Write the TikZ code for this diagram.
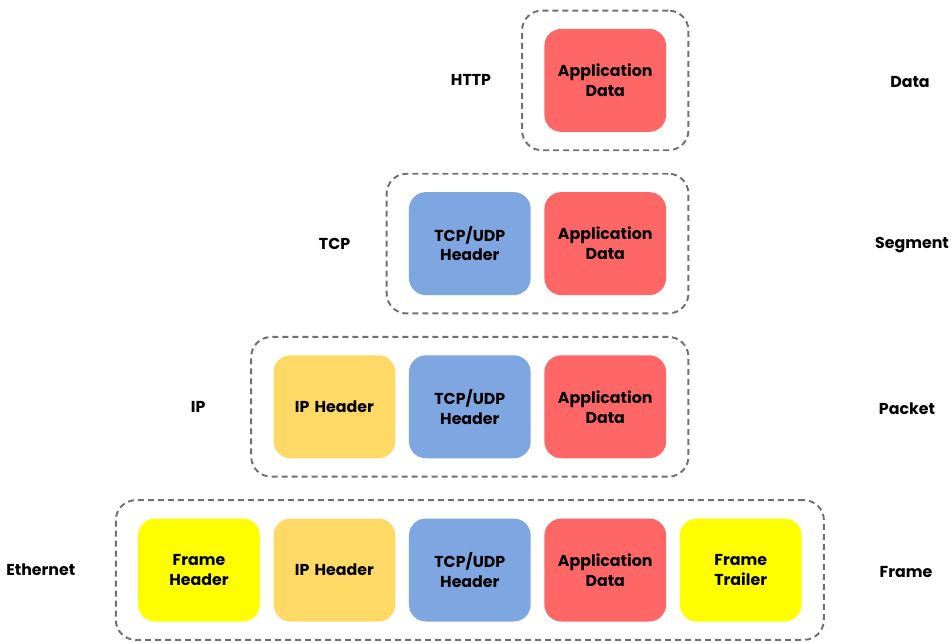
\documentclass[tikz,border=0pt]{standalone}
\usepackage{fontspec}
\setmainfont{Poppins}
\usepackage{xcolor}
\usepackage{tikz}
\usetikzlibrary{positioning, fit}

\definecolor{datared}{HTML}{FF6666}
\definecolor{tcpblue}{HTML}{7EA6E0}
\definecolor{iporange}{HTML}{FFD966}
\definecolor{frameyellow}{HTML}{FFFF00}
\definecolor{groupgray}{HTML}{707070}

\begin{document}
\begin{tikzpicture}[
        node distance=0.26cm,
        % Node styles
        block/.style={rectangle, rounded corners=0.34cm, minimum width=2.4cm,
                      minimum height=2.06cm, text width=2.2cm, align=center,
                      font=\fontsize{9}{11.3}\selectfont\bfseries},
        appdata/.style={block, fill=datared},
        tcphead/.style={block, fill=tcpblue},
        iphead/.style={block, fill=iporange},
        framepart/.style={block, fill=frameyellow},
        group/.style={draw=groupgray, line width=1.1pt, dash pattern=on 0.12cm off 0.08cm,
                      rounded corners=0.4cm, inner xsep=0.44cm, inner ysep=0.36cm},
        layer/.style={font=\fontsize{9}{11}\selectfont\bfseries}
    ]
        \useasboundingbox (0,0) rectangle (19.02,-12.84);

        % Ethernet row
        \node[framepart] (framehead) at (3.98,-11.4) {Frame\\Header};
        \node[iphead, right=of framehead] (ethip) {IP Header};
        \node[tcphead, right=of ethip] (ethtcp) {TCP/UDP\\Header};
        \node[appdata, right=of ethtcp] (ethdata) {Application\\Data};
        \node[framepart, right=of ethdata] (frametrail) {Frame\\Trailer};

        % IP row
        \node[iphead, above=1.19cm of ethip] (ipip) {IP Header};
        \node[tcphead, right=of ipip] (iptcp) {TCP/UDP\\Header};
        \node[appdata, right=of iptcp] (ipdata) {Application\\Data};

        % TCP row
        \node[tcphead, above=1.19cm of iptcp] (tcptcp) {TCP/UDP\\Header};
        \node[appdata, right=of tcptcp] (tcpdata) {Application\\Data};

        % HTTP row
        \node[appdata, above=1.19cm of tcpdata] (httpdata) {Application\\Data};

        % Dashed groups
        \node[group, fit=(framehead)(frametrail)] (ethgroup) {};
        \node[group, fit=(ipip)(ipdata)] (ipgroup) {};
        \node[group, fit=(tcptcp)(tcpdata)] (tcpgroup) {};
        \node[group, fit=(httpdata)] (httpgroup) {};

        % Layer names on the left
        \node[layer] (ethname) at ([xshift=-1.94cm]framehead.west) {Ethernet};
        \node[layer] (ipname) at ([xshift=-1.5cm]ipip.west) {IP};
        \node[layer] (tcpname) at ([xshift=-1.48cm]tcptcp.west) {TCP};
        \node[layer] (httpname) at ([xshift=-1.46cm]httpdata.west) {HTTP};

        % Unit names on the right
        \node[layer] (framename) at (18.12,-11.44) {Frame};
        \node[layer] (packetname) at (18.14,-8.18) {Packet};
        \node[layer] (segmentname) at (18.24,-4.9) {Segment};
        \node[layer] (dataname) at (18.2,-1.64) {Data};
    \end{tikzpicture}
\end{document}
